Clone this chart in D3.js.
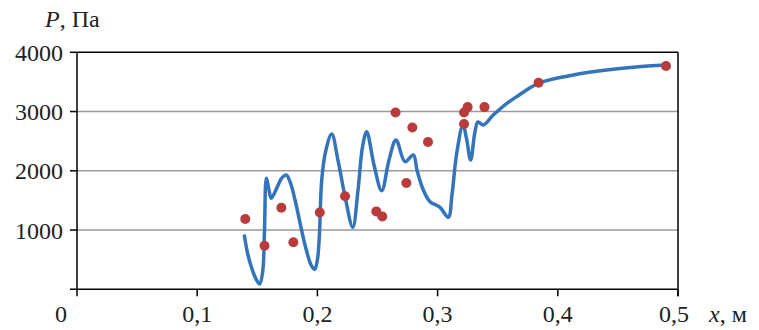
<!DOCTYPE html>
<html>
<head>
    <meta charset="UTF-8">
    <script src="https://d3js.org/d3.v7.min.js"></script>
</head>
<body style="margin:0">
    <svg id="chart" width="759" height="330"></svg>
    <script>
        // measured points (x, m ; P, Pa)
        const pointX = [0.140, 0.156, 0.170, 0.180, 0.202, 0.223, 0.249, 0.254, 0.265, 0.274,
                        0.279, 0.292, 0.322, 0.322, 0.325, 0.339, 0.384, 0.490];
        const pointP = [1185, 735, 1375, 795, 1295, 1570, 1315, 1230, 2985, 1795,
                        2730, 2485, 2790, 2985, 3075, 3075, 3485, 3770];

        // fitted curve
        const curveX = [0.1393, 0.1420, 0.1450, 0.1490, 0.1520, 0.1545, 0.1560, 0.1575, 0.1595, 0.1616,
                        0.1660, 0.1705, 0.1741, 0.1775, 0.1814, 0.1897, 0.1950, 0.1978, 0.2000, 0.2016,
                        0.2036, 0.2071, 0.2119, 0.2171, 0.2230, 0.2294, 0.2338, 0.2375, 0.2410, 0.2471,
                        0.2535, 0.2596, 0.2654, 0.2729, 0.2798, 0.2830, 0.2881, 0.2937, 0.3020, 0.3089,
                        0.3120, 0.3159, 0.3211, 0.3240, 0.3275, 0.3310, 0.3336, 0.3380, 0.3463, 0.3558,
                        0.3658, 0.3838, 0.4129, 0.4407, 0.4650, 0.4892];
        const curveP = [900, 600, 380, 170, 90, 300, 1000, 1873, 1700, 1536,
                        1700, 1880, 1929, 1800, 1507, 748, 400, 338, 500, 888,
                        1845, 2351, 2621, 2182, 1563, 1046, 1676, 2400, 2660, 2098,
                        1664, 2182, 2520, 2154, 2267, 2000, 1676, 1478, 1384, 1215,
                        1600, 2295, 2773, 2550, 2182, 2650, 2824, 2773, 2942, 3110,
                        3251, 3477, 3617, 3700, 3750, 3784];

        const xTicks = [0.1, 0.2, 0.3, 0.4, 0.5];
        const yTicks = [1000, 2000, 3000, 4000];
        const gridP = [1000, 2000, 3000];

        const svg = d3.select("#chart");
        const x = d3.scaleLinear().domain([0, 0.5]).range([77, 678]);
        const y = d3.scaleLinear().domain([0, 4000]).range([289.3, 52.3]);
        const x0 = x(0), x1 = x(0.5), y0 = y(0), y1 = y(4000);

        // helper for labels, plain text elements
        function label(px, py, str, anchor) {
            return svg.append("text")
                .attr("x", px).attr("y", py)
                .attr("font-size", 24)
                .attr("fill", "#222")
                .attr("text-anchor", anchor)
                .style("font-family", "'Liberation Serif'")
                .text(str);
        }

        // grid lines
        svg.append("g")
            .selectAll("line").data(gridP).enter().append("line")
            .attr("x1", x0).attr("x2", x1)
            .attr("y1", d => y(d)).attr("y2", d => y(d))
            .attr("stroke", "#9a9a9a").attr("stroke-width", 1.4);

        // frame
        const frame = [[x0, y1, x1, y1], [x1, y1, x1, y0 + 7], [x0, y1, x0, y0 + 7], [x0 - 7, y0, x1, y0]];
        svg.append("g").selectAll("line").data(frame).enter().append("line")
            .attr("x1", d => d[0]).attr("y1", d => d[1]).attr("x2", d => d[2]).attr("y2", d => d[3])
            .attr("stroke", "#000").attr("stroke-width", 1.5);

        // ticks
        svg.append("g").selectAll("line").data(xTicks).enter().append("line")
            .attr("x1", d => x(d)).attr("x2", d => x(d)).attr("y1", y0).attr("y2", y0 + 7)
            .attr("stroke", "#000").attr("stroke-width", 1.5);
        svg.append("g").selectAll("line").data(yTicks).enter().append("line")
            .attr("x1", x0 - 7).attr("x2", x0).attr("y1", d => y(d)).attr("y2", d => y(d))
            .attr("stroke", "#000").attr("stroke-width", 1.5);

        // tick labels
        const fmt = d => d3.format(".1f")(d).replace(".", ",");
        label(x0 - 16, 322, "0", "middle");
        xTicks.forEach(d => label(x(d) - (d === 0.5 ? 4 : 0), 322, fmt(d), "middle"));
        yTicks.forEach(d => label(x0 - 14, y(d) + 8.5, d, "end"));

        // curve
        const curveData = curveX.map((d, i) => [d, curveP[i]]);
        svg.append("path")
            .datum(curveData)
            .attr("fill", "none")
            .attr("stroke", "#3474bb")
            .attr("stroke-width", 3.5)
            .attr("stroke-linecap", "round")
            .attr("d", d3.line().x(d => x(d[0])).y(d => y(d[1])).curve(d3.curveCatmullRom.alpha(0.5)));

        // points
        svg.append("g")
            .selectAll("circle")
            .data(pointX.map((d, i) => [d, pointP[i]]))
            .enter().append("circle")
            .attr("cx", d => x(d[0]))
            .attr("cy", d => y(d[1]))
            .attr("r", 5)
            .attr("fill", "#b83c3c");

        // axis titles
        const pt = label(45, 27, "", "start");
        pt.append("tspan").attr("font-style", "italic").text("P");
        pt.append("tspan").text(", Па");
        const xt = label(709, 322, "", "start");
        xt.append("tspan").attr("font-style", "italic").text("x");
        xt.append("tspan").text(", м");
    </script>
</body>
</html>
